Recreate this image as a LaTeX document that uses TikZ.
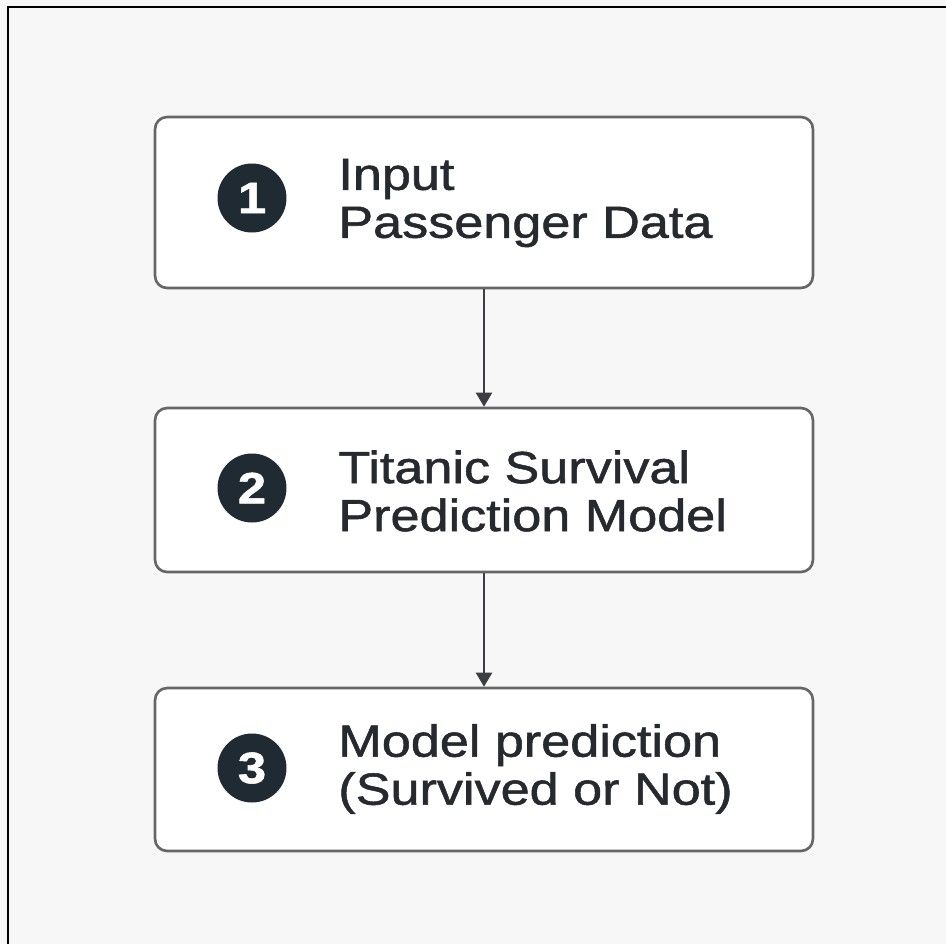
\documentclass[tikz,border=0pt]{standalone}
\usepackage{fontspec}
\setmainfont[FakeStretch=1.16, FakeBold=1.2]{Liberation Sans}
\usetikzlibrary{arrows.meta,positioning}

\definecolor{ink}{HTML}{26292D}
\definecolor{badgefill}{HTML}{1F2A33}
\definecolor{paper}{HTML}{F7F7F7}
\definecolor{edge}{HTML}{666666}

\begin{document}
\begin{tikzpicture}[x=0.02cm, y=-0.02cm,
    stepbox/.style={draw=edge, line width=1.5pt, fill=white, rounded corners=0.24cm,
      minimum width=13.16cm, inner sep=0pt},
    badge/.style={circle, fill=badgefill, text=white, minimum size=1.38cm, inner sep=0pt,
      font=\fontsize{25}{25}\selectfont\bfseries},
    steptext/.style={anchor=west, align=left, inner sep=0pt, text=ink,
      font=\fontsize{25.6}{27.3}\selectfont},
    flow/.style={draw=ink!90, line width=1.3pt, -{Triangle[length=0.28cm, width=0.32cm]}}]

  % page and frame
  \fill[paper] (0,0) rectangle (946,944);
  \useasboundingbox (0,0) rectangle (946,944);
  \draw[line width=1.2pt] (946,7) -- (8,7) -- (8,944);

  % step 1
  \node[stepbox, minimum height=3.42cm] (B1) at (484, 202.5) {};
  \node[badge] (C1) at (252, 198) {1};
  \node[steptext] (L1) at (338, 203) {Input\\Passenger Data};

  % step 2
  \node[stepbox, minimum height=3.28cm] (B2) at (484, 490) {};
  \node[badge] (C2) at (252, 488) {2};
  \node[steptext] (L2) at (338, 491) {Titanic Survival\\Prediction Model};

  % step 3
  \node[stepbox, minimum height=3.26cm] (B3) at (484, 769.5) {};
  \node[badge] (C3) at (252, 768) {3};
  \node[steptext] (L3) at (338, 769) {Model prediction\\(Survived or Not)};

  \draw[flow] (B1) -- (B2);
  \draw[flow] (B2) -- (B3);
\end{tikzpicture}
\end{document}
